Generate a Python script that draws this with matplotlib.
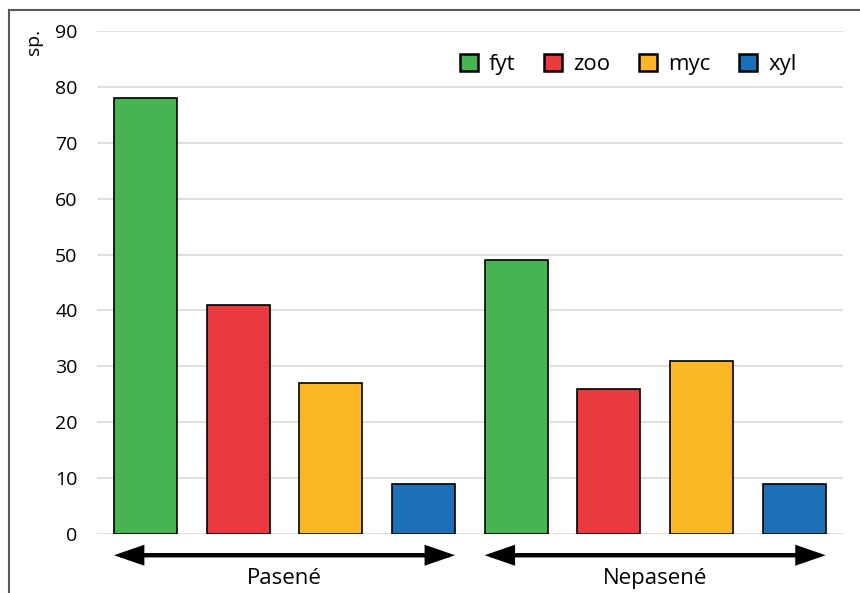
import matplotlib
matplotlib.use('Agg')
import matplotlib.pyplot as plt
from matplotlib.patches import Patch
from matplotlib.lines import Line2D
import numpy as np

# data
groups = ['Pasené', 'Nepasené']
categories = ['fyt', 'zoo', 'myc', 'xyl']
pasene = [78, 41, 27, 9]
nepasene = [49, 26, 31, 9]
colors = ['#46b450', '#ea3a3f', '#fbb726', '#1c70b8']
yticks = [0, 10, 20, 30, 40, 50, 60, 70, 80, 90]

plt.rcParams['font.family'] = ['Open Sans', 'DejaVu Sans']

fig = plt.figure(figsize=(8.6, 5.93), dpi=100)
ax = fig.add_axes([0.1128, 0.0995, 0.867, 0.8482])

width = 0.68
n = len(categories)
for g, vals in enumerate([pasene, nepasene]):
    x = np.arange(n) + g * n
    ax.bar(x, vals, width=width, color=colors, edgecolor='black', linewidth=1.2, zorder=3)

    # double arrow under each group and its label
    x0 = x[0] - width / 2
    x1 = x[-1] + width / 2
    ax.annotate('', xy=(x0, -3.8), xytext=(x1, -3.8), annotation_clip=False,
                arrowprops=dict(arrowstyle='<|-|>,head_length=1.1,head_width=0.38',
                                color='black', lw=3.2, shrinkA=0, shrinkB=0,
                                mutation_scale=14, joinstyle='miter'))
    ax.text((x0 + x1) / 2, -7.9, groups[g], ha='center', va='center',
            fontsize=16, clip_on=False)

ax.set_xlim(-0.523, 2 * n - 1 + 0.523)
ax.set_ylim(0, 90)
ax.set_yticks(yticks)
ax.set_xticks([])
ax.tick_params(axis='y', length=0, labelsize=14, pad=14)
ax.grid(axis='y', color='#d9d9d9', linewidth=1.2, zorder=0)
for s in ax.spines.values():
    s.set_visible(False)

fig.text(0.039, 0.93, 'sp.', rotation=90, ha='center', va='center', fontsize=14)

handles = [Patch(facecolor=c, edgecolor='black', linewidth=1.8) for c in colors]
ax.legend(handles, categories, loc='upper right', bbox_to_anchor=(0.965, 0.995), ncol=4,
          frameon=False, fontsize=16, handlelength=0.8, handleheight=0.8,
          handletextpad=0.5, columnspacing=1.3)

# outer frame (top and left)
fig.add_artist(Line2D([9 / 860, 1.0], [1 - 10 / 593, 1 - 10 / 593], color='#5a5a5a', lw=1.5))
fig.add_artist(Line2D([9 / 860, 9 / 860], [0, 1 - 10 / 593], color='#5a5a5a', lw=1.5))

fig.savefig('out.png', dpi=100)
